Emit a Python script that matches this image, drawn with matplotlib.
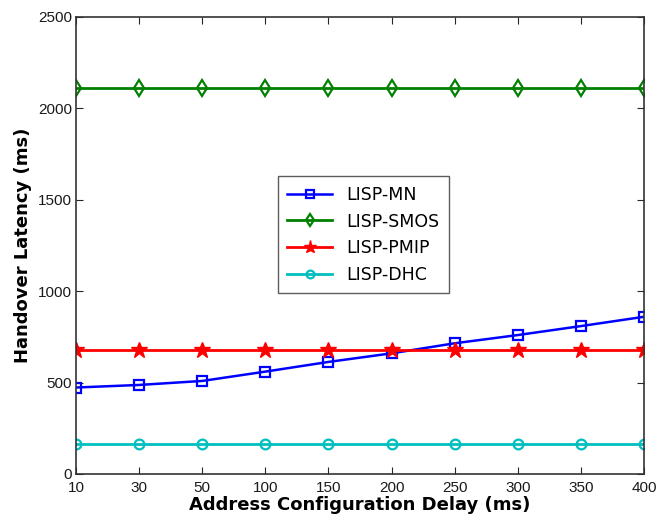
import numpy as np
import matplotlib
matplotlib.use('Agg')
import matplotlib.pyplot as plt

# address configuration delay (ms), plotted as equally spaced categories
delays = ['10', '30', '50', '100', '150', '200', '250', '300', '350', '400']
lisp_mn = [473, 487, 509, 560, 613, 660, 715, 760, 809, 860]
lisp_smos = [2110, 2110, 2110, 2110, 2110, 2110, 2110, 2110, 2110, 2110]
lisp_pmip = [680, 680, 680, 680, 680, 680, 680, 680, 680, 680]
lisp_dhc = [166, 166, 166, 166, 166, 166, 166, 166, 166, 166]

x = np.arange(len(delays))

fig = plt.figure(figsize=(6.57, 5.26), dpi=100)
ax = fig.add_axes([0.1157, 0.0989, 0.8645, 0.8688])

ax.plot(x, lisp_mn, color='#0000ff', lw=1.8, marker='s', ms=7.5, mfc='none', mew=1.6, label='LISP-MN')
ax.plot(x, lisp_smos, color='#008000', lw=2.0, marker='d', ms=8, mfc='none', mew=1.6, label='LISP-SMOS')
ax.plot(x, lisp_pmip, color='#ff0000', lw=2.0, marker='*', ms=12, label='LISP-PMIP')
ax.plot(x, lisp_dhc, color='#00bfbf', lw=2.0, marker='o', ms=7, mfc='none', mew=1.6, label='LISP-DHC')

ax.set_xlim(0, len(delays) - 1)
ax.set_ylim(0, 2500)
ax.set_xticks(x)
ax.set_xticklabels(delays)
ax.set_yticks(np.arange(0, 2501, 500))
ax.tick_params(direction='in', top=True, right=True, length=5, labelsize=11, colors='#262626')
ax.tick_params(axis='x', pad=5)
ax.tick_params(axis='y', pad=3)
for lab in ax.get_xticklabels() + ax.get_yticklabels():
    lab.set_family('Liberation Sans')
    lab.set_color('#1a1a1a')
for s in ax.spines.values():
    s.set_color('#333333')
    s.set_linewidth(1.2)

ax.set_xlabel('Address Configuration Delay (ms)', fontsize=13, fontweight='bold', family='DejaVu Sans', labelpad=1)
ax.set_ylabel('Handover Latency (ms)', fontsize=13, fontweight='bold', family='DejaVu Sans', labelpad=4)

leg = ax.legend(loc='lower left', bbox_to_anchor=(0.355, 0.395), borderaxespad=0, fancybox=False,
                edgecolor='#333333', prop={'family': 'DejaVu Sans', 'size': 12.5}, handlelength=2.6,
                borderpad=0.55, labelspacing=0.5, markerscale=0.8)
leg.get_frame().set_linewidth(1.0)

fig.savefig('out.png', dpi=100)
